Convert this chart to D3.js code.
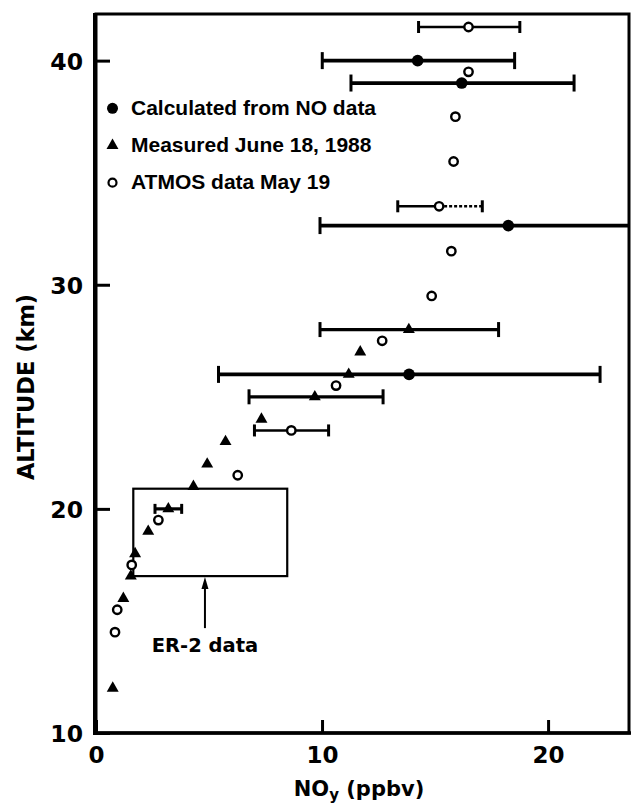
<!DOCTYPE html>
<html>
<head>
<meta charset="utf-8">
<script src="https://cdn.jsdelivr.net/npm/d3@7"></script>
<style>
  html, body { margin: 0; padding: 0; background: #fff; }
  svg { display: block; }
</style>
</head>
<body>
<svg id="chart" width="632" height="804"></svg>
<script>
// ---------------- data ----------------
// Calculated from NO data (filled circles)
const calcAlt = [40, 39, 32.64, 26];
const calcVal = [14.23, 16.18, 18.24, 13.85];
const calcLo  = [10.01, 11.28, 9.91, 5.42];
const calcHi  = [18.52, 21.15, 24.5, 22.3];

// Measured June 18, 1988 (triangles)
const measAlt = [28, 27, 26, 25, 24, 23, 22, 21, 20, 19, 18, 17, 16, 12];
const measVal = [13.84, 11.69, 11.18, 9.68, 7.32, 5.73, 4.92, 4.31, 3.2, 2.31, 1.73, 1.54, 1.21, 0.74];
const measLo  = [9.91, null, null, 6.77, null, null, null, null, 2.61, null, null, null, null, null];
const measHi  = [17.81, null, null, 12.7, null, null, null, null, 3.79, null, null, null, null, null];

// ATMOS data May 19 (open circles)
const atmosAlt = [41.5, 39.5, 37.5, 35.5, 33.5, 31.5, 29.5, 27.5, 25.5, 23.5, 21.5, 19.5, 17.5, 15.5, 14.5];
const atmosVal = [16.48, 16.48, 15.9, 15.82, 15.18, 15.72, 14.85, 12.66, 10.62, 8.64, 6.27, 2.76, 1.58, 0.94, 0.84];
const atmosLo  = [14.27, null, null, null, 13.35, null, null, null, null, 7.01, null, null, null, null, null];
const atmosHi  = [18.75, null, null, null, 17.09, null, null, null, null, 10.29, null, null, null, null, null];
// ATMOS points whose upper error segment is drawn dotted in the source
const atmosDottedUpperAlt = [33.5];

// ER-2 data box (NOy range, altitude range) and arrow
const er2Val = [1.65, 8.46];
const er2Alt = [17, 20.9];
const er2ArrowVal = 4.82;
const er2Label = "ER-2 data";

const xTicks = [0, 10, 20];
const yTicks = [10, 20, 30, 40];
const xDomain = [0, 23.58];
const yDomain = [10, 42.08];

const legendLabels = ["Calculated from NO data", "Measured June 18, 1988", "ATMOS data May 19"];
const xTitle = ["NO", "y", " (ppbv)"];
const yTitle = "ALTITUDE (km)";

// ---------------- drawing ----------------
const svg = d3.select("#chart");
const pL = 96, pR = 629, pT = 14, pB = 733;

const x = d3.scaleLinear().domain(xDomain).range([pL, pR]);
const y = d3.scaleLinear().domain(yDomain).range([pB, pT]);

svg.append("defs").append("clipPath").attr("id", "plotclip")
  .append("rect").attr("x", pL).attr("y", pT)
  .attr("width", pR - pL).attr("height", pB - pT);

const tickFont = "'DejaVu Sans', sans-serif";
const textFont = "'Liberation Sans', Arial, sans-serif";

// axes (ticks inward)
const yAxis = d3.axisLeft(y).tickValues(yTicks).tickSize(-14).tickPadding(13).tickFormat(d3.format("d"));
const gy = svg.append("g").attr("transform", `translate(${pL},0)`).call(yAxis);
gy.select(".domain").remove();
gy.selectAll(".tick line").attr("stroke", "#000").attr("stroke-width", 3);
gy.selectAll(".tick text").attr("fill", "#000")
  .style("font-family", tickFont).style("font-weight", "bold").style("font-size", "23.5px")
  .attr("dy", "0.36em");

const xAxis = d3.axisBottom(x).tickValues(xTicks).tickSize(-13).tickPadding(14).tickFormat(d3.format("d"));
const gx = svg.append("g").attr("transform", `translate(0,${pB})`).call(xAxis);
gx.select(".domain").remove();
gx.selectAll(".tick line").attr("stroke", "#000").attr("stroke-width", 3);
gx.selectAll(".tick text").attr("fill", "#000")
  .style("font-family", tickFont).style("font-weight", "bold").style("font-size", "23px");

// frame
svg.append("rect").attr("x", pL).attr("y", pT)
  .attr("width", pR - pL).attr("height", pB - pT)
  .attr("fill", "none").attr("stroke", "#000").attr("stroke-width", 3);
svg.append("line").attr("x1", pL - 1).attr("x2", pL - 1).attr("y1", pT - 1).attr("y2", pB + 2)
  .attr("stroke", "#000").attr("stroke-width", 4);
svg.append("line").attr("x1", pL - 3).attr("x2", pR + 2).attr("y1", pB).attr("y2", pB)
  .attr("stroke", "#000").attr("stroke-width", 3.5);

// axis titles
const xt = svg.append("text").attr("x", 359).attr("y", 796).attr("text-anchor", "middle")
  .style("font-family", tickFont).style("font-weight", "bold").style("font-size", "21px").attr("fill", "#000");
xt.append("tspan").text(xTitle[0]);
xt.append("tspan").text(xTitle[1]).style("font-size", "15px").attr("dy", 4);
xt.append("tspan").text(xTitle[2]).attr("dy", -4);

svg.append("text").attr("transform", "translate(33.5,387) rotate(-90)").attr("text-anchor", "middle")
  .style("font-family", tickFont).style("font-weight", "bold").style("font-size", "22.5px").attr("fill", "#000")
  .text(yTitle);

const plot = svg.append("g").attr("clip-path", "url(#plotclip)");

// ER-2 box and arrow
plot.append("rect")
  .attr("x", x(er2Val[0])).attr("y", y(er2Alt[1]))
  .attr("width", x(er2Val[1]) - x(er2Val[0])).attr("height", y(er2Alt[0]) - y(er2Alt[1]))
  .attr("fill", "none").attr("stroke", "#000").attr("stroke-width", 2.2);
const ax = x(er2ArrowVal), ayTip = y(er2Alt[0]) + 1;
plot.append("line").attr("x1", ax).attr("x2", ax).attr("y1", ayTip + 6).attr("y2", ayTip + 51)
  .attr("stroke", "#000").attr("stroke-width", 2);
plot.append("path")
  .attr("d", `M${ax},${ayTip} L${ax - 3.5},${ayTip + 12} L${ax + 3.5},${ayTip + 12} Z`)
  .attr("fill", "#000");
svg.append("text").attr("x", ax).attr("y", 652).attr("text-anchor", "middle")
  .style("font-family", tickFont).style("font-weight", "bold").style("font-size", "19.5px").attr("fill", "#000")
  .text(er2Label);

// error bar helper
function errorBar(g, v, a, lo, hi, sw, capHalf, dottedUpper) {
  const yy = y(a);
  if (dottedUpper) {
    g.append("line").attr("x1", x(lo)).attr("x2", x(v)).attr("y1", yy).attr("y2", yy)
      .attr("stroke", "#000").attr("stroke-width", sw);
    g.append("line").attr("x1", x(v)).attr("x2", x(hi)).attr("y1", yy).attr("y2", yy)
      .attr("stroke", "#000").attr("stroke-width", sw).attr("stroke-dasharray", "3,2");
  } else {
    g.append("line").attr("x1", x(lo)).attr("x2", x(hi)).attr("y1", yy).attr("y2", yy)
      .attr("stroke", "#000").attr("stroke-width", sw);
  }
  [lo, hi].forEach(e => {
    g.append("line").attr("x1", x(e)).attr("x2", x(e)).attr("y1", yy - capHalf).attr("y2", yy + capHalf)
      .attr("stroke", "#000").attr("stroke-width", 3);
  });
}

const bars = plot.append("g");
atmosAlt.forEach((a, i) => {
  if (atmosLo[i] != null) errorBar(bars, atmosVal[i], a, atmosLo[i], atmosHi[i], 2.5, 6, atmosDottedUpperAlt.includes(a));
});
measAlt.forEach((a, i) => {
  if (measLo[i] != null) errorBar(bars, measVal[i], a, measLo[i], measHi[i], 3.2, a === 20 ? 5 : 7.5, false);
});
calcAlt.forEach((a, i) => {
  errorBar(bars, calcVal[i], a, calcLo[i], calcHi[i], 3.8, 8.5, false);
});

// markers
const tri = d3.symbol().type(d3.symbolTriangle).size(62);
plot.append("g").selectAll("path").data(measAlt).join("path")
  .attr("d", tri)
  .attr("transform", (a, i) => `translate(${x(measVal[i])},${y(a)})`)
  .attr("fill", "#000");

plot.append("g").selectAll("circle").data(atmosAlt).join("circle")
  .attr("cx", (a, i) => x(atmosVal[i])).attr("cy", a => y(a)).attr("r", 4.2)
  .attr("fill", "#fff").attr("stroke", "#000").attr("stroke-width", 2.4);

plot.append("g").selectAll("circle").data(calcAlt).join("circle")
  .attr("cx", (a, i) => x(calcVal[i])).attr("cy", a => y(a)).attr("r", 5.8)
  .attr("fill", "#000");

// legend
const lgX = 112.5, lgY0 = 108.3, lgDy = 37.2, lgTextX = 131;
const lg = svg.append("g");
lg.append("circle").attr("cx", lgX).attr("cy", lgY0).attr("r", 5.5).attr("fill", "#000");
lg.append("path").attr("d", tri).attr("transform", `translate(${lgX},${lgY0 + lgDy})`).attr("fill", "#000");
lg.append("circle").attr("cx", lgX).attr("cy", lgY0 + 2 * lgDy).attr("r", 4).attr("fill", "#fff")
  .attr("stroke", "#000").attr("stroke-width", 2.2);
legendLabels.forEach((t, i) => {
  lg.append("text").attr("x", lgTextX).attr("y", lgY0 + i * lgDy + 6.5)
    .style("font-family", textFont).style("font-weight", "bold").style("font-size", "21px")
    .attr("fill", "#000").text(t);
});
</script>
</body>
</html>
